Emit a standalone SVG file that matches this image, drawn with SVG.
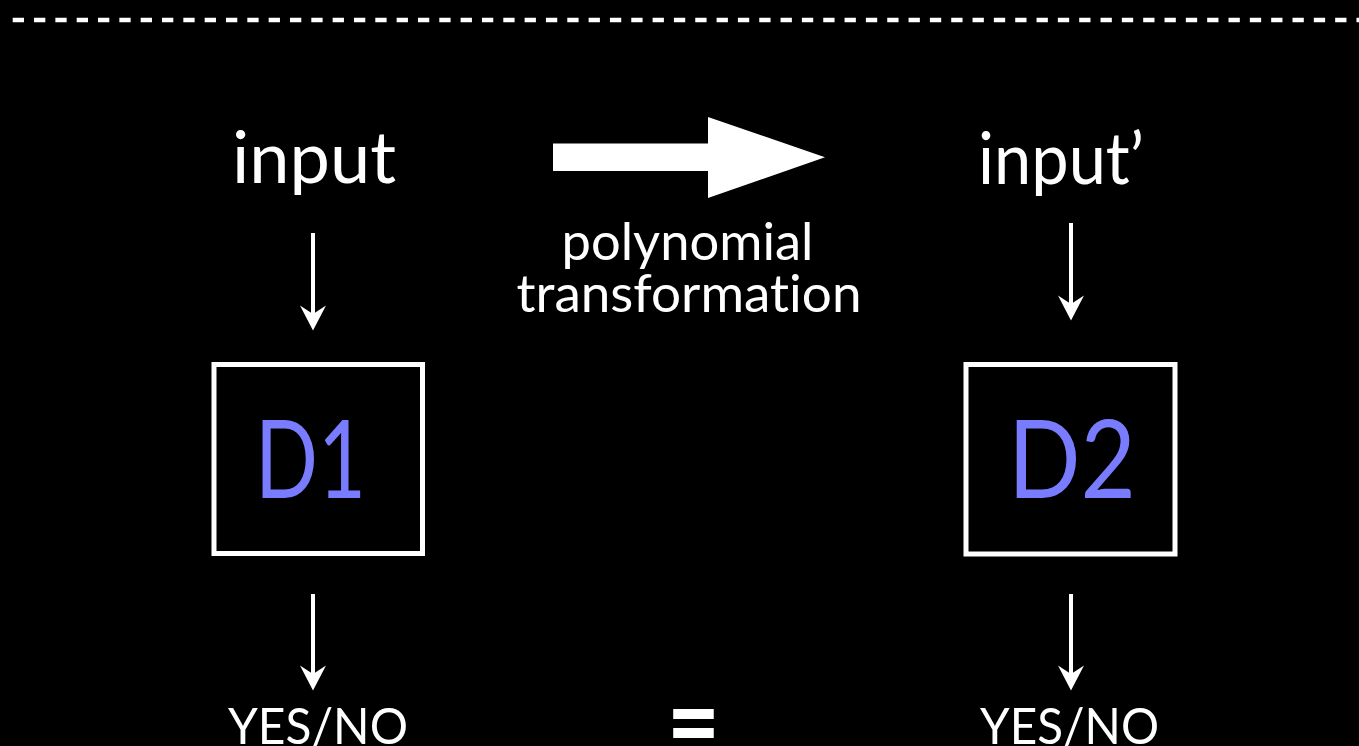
<svg xmlns="http://www.w3.org/2000/svg" width="1359" height="746" viewBox="0 0 1359 746">
  <defs>
    <style>
      .lbl { fill: #ffffff; font-family: "Lato", "Open Sans", "Liberation Sans", sans-serif; font-variant-ligatures: none; }
      .dec { fill: #7a7cff; font-family: "Lato", "Open Sans", "Liberation Sans", sans-serif; font-size: 108px; }
      .box { fill: #000000; stroke: #ffffff; stroke-width: 5; }
      .flow { stroke: #ffffff; stroke-width: 4; fill: none; }
    </style>
    <marker id="head" markerUnits="userSpaceOnUse" markerWidth="26" markerHeight="26"
            viewBox="0 0 24 25" refX="10" refY="12.5" orient="auto">
      <path d="M0,0 L24,12.5 L0,25 L8,12.5 Z" fill="#ffffff"/>
    </marker>
  </defs>

  <rect width="1359" height="746" fill="#000000"/>

  <!-- separator -->
  <line x1="12.7" y1="20" x2="1359" y2="20" stroke="#ffffff" stroke-width="4.5" stroke-dasharray="11.3 10.03"/>

  <!-- inputs -->
  <g id="input">
    <text class="lbl" x="314" y="183" font-size="72" text-anchor="middle" textLength="164" lengthAdjust="spacingAndGlyphs">input</text>
  </g>
  <g id="input-prime">
    <text class="lbl" x="1061" y="184" font-size="72" text-anchor="middle" textLength="166" lengthAdjust="spacingAndGlyphs">input’</text>
  </g>

  <!-- transformation -->
  <g id="transformation">
    <polygon points="553,143.5 708,143.5 708,117 825,157.3 708,198 708,171 553,171" fill="#ffffff"/>
    <text class="lbl" x="687.5" y="260" font-size="53" text-anchor="middle" textLength="252" lengthAdjust="spacingAndGlyphs">polynomial</text>
    <text class="lbl" x="689" y="311.5" font-size="53" text-anchor="middle" textLength="345" lengthAdjust="spacingAndGlyphs">transformation</text>
  </g>

  <!-- deciders -->
  <g id="d1">
    <rect class="box" x="214" y="364.5" width="208.5" height="189"/>
    <text class="dec" x="310.5" y="497.5" text-anchor="middle" textLength="111" lengthAdjust="spacingAndGlyphs">D1</text>
  </g>
  <g id="d2">
    <rect class="box" x="966" y="364.5" width="209" height="189.5"/>
    <text class="dec" x="1072" y="497.5" text-anchor="middle" textLength="128" lengthAdjust="spacingAndGlyphs">D2</text>
  </g>

  <!-- outputs -->
  <g id="out1">
    <text class="lbl" x="318" y="744" font-size="50" text-anchor="middle" textLength="180" lengthAdjust="spacingAndGlyphs">YES/NO</text>
  </g>
  <g id="out2">
    <text class="lbl" x="1069.5" y="744" font-size="50" text-anchor="middle" textLength="179" lengthAdjust="spacingAndGlyphs">YES/NO</text>
  </g>
  <g id="equals">
    <text class="lbl" x="693.5" y="760" font-size="110" font-weight="bold" text-anchor="middle" textLength="53" lengthAdjust="spacingAndGlyphs">=</text>
  </g>

  <!-- connectors -->
  <g id="connectors">
    <line class="flow" x1="313" y1="233" x2="313" y2="316" marker-end="url(#head)"/>
    <line class="flow" x1="1071" y1="223" x2="1071" y2="306" marker-end="url(#head)"/>
    <line class="flow" x1="313" y1="594" x2="313" y2="676" marker-end="url(#head)"/>
    <line class="flow" x1="1071" y1="594" x2="1071" y2="676" marker-end="url(#head)"/>
  </g>
</svg>
